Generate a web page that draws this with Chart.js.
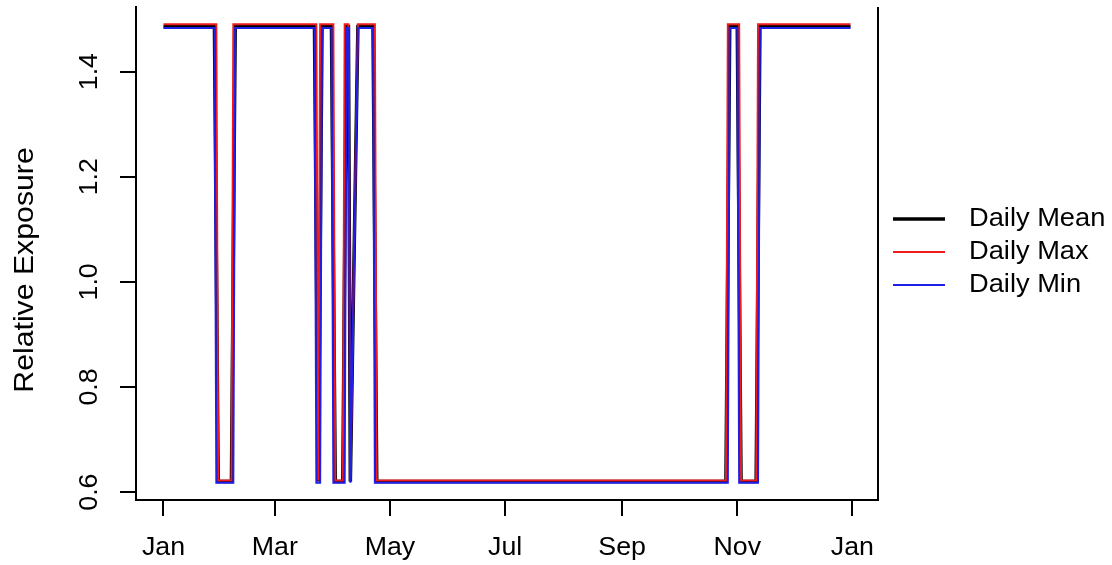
<!DOCTYPE html>
<html>
<head>
<meta charset="utf-8">
<script src="https://cdn.jsdelivr.net/npm/chart.js@4"></script>
<style>
body { margin: 0; background: #fff; }
</style>
</head>
<body>
<canvas id="chart" width="1112" height="565"></canvas>
<script>
// one year of daily values, day 0 = 1 Jan
var nDays = 365;
var missingDays = [100, 101, 102];

// blocks where the whole day sat at the low level (daily max is low too)
var fullLowStart = [29, 82, 91, 99, 113, 306];
var fullLowEnd = [36, 82, 95, 99, 298, 314];
// blocks touched by the low level (daily min is low)
var anyLowStart = [28, 81, 90, 99, 112, 305];
var anyLowEnd = [37, 83, 96, 99, 299, 315];

// low, partly-low day, high
var meanLevels = [0.620, 1.05, 1.486];
var maxLevels = [0.622, 1.490];
var minLevels = [0.618, 1.483];

var monthTickDays = [0, 59, 120, 181, 243, 304, 365];
var monthTickLabels = ['Jan', 'Mar', 'May', 'Jul', 'Sep', 'Nov', 'Jan'];
var yTickValues = [0.6, 0.8, 1.0, 1.2, 1.4];

var seriesLabels = ['Daily Mean', 'Daily Max', 'Daily Min'];
var seriesColors = ['#000000', '#ee1c1c', '#1f1fe8'];
var seriesWidths = [3.5, 2, 2];

function inBlock(d, starts, ends) {
  for (var i = 0; i < starts.length; i++) {
    if (d >= starts[i] && d <= ends[i]) return true;
  }
  return false;
}

var meanData = [], maxData = [], minData = [];
for (var d = 0; d < nDays; d++) {
  if (missingDays.indexOf(d) >= 0) continue;
  var full = inBlock(d, fullLowStart, fullLowEnd);
  var any = inBlock(d, anyLowStart, anyLowEnd);
  meanData.push({x: d, y: full ? meanLevels[0] : (any ? meanLevels[1] : meanLevels[2])});
  maxData.push({x: d, y: full ? maxLevels[0] : maxLevels[1]});
  minData.push({x: d, y: any ? minLevels[0] : minLevels[1]});
}

var FONT = "'Liberation Sans', Arial, sans-serif";
Chart.defaults.font.family = FONT;
Chart.defaults.color = '#000';

// the reference text is a little wider than Arial, so stretch it along the text direction
function wideText(ctx, txt, x, y, size, angle, align, baseline, sx) {
  ctx.save();
  ctx.translate(x, y);
  ctx.rotate(angle);
  ctx.scale(sx, 1);
  ctx.font = size + 'px ' + FONT;
  ctx.textAlign = align;
  ctx.textBaseline = baseline;
  ctx.fillText(txt, 0, 0);
  ctx.restore();
}

var extras = {
  id: 'extras',
  afterDraw: function(chart) {
    var ctx = chart.ctx;
    var area = chart.chartArea;
    var xs = chart.scales.x, ys = chart.scales.y;
    ctx.save();
    // right side of the box
    ctx.strokeStyle = '#000';
    ctx.lineWidth = 2;
    ctx.beginPath();
    ctx.moveTo(area.right, area.top);
    ctx.lineTo(area.right, area.bottom);
    ctx.stroke();

    ctx.fillStyle = '#000';
    monthTickDays.forEach(function(v, i) {
      wideText(ctx, monthTickLabels[i], xs.getPixelForValue(v), 555, 25, 0, 'center', 'alphabetic', 1.07);
    });
    yTickValues.forEach(function(v) {
      wideText(ctx, v.toFixed(1), 97, ys.getPixelForValue(v), 25, -Math.PI / 2, 'center', 'alphabetic', 1.07);
    });
    wideText(ctx, 'Relative Exposure', 33, 270, 28, -Math.PI / 2, 'center', 'alphabetic', 1.08);

    // legend
    for (var i = 0; i < seriesLabels.length; i++) {
      var ly = 219 + i * 33;
      ctx.strokeStyle = seriesColors[i];
      ctx.lineWidth = seriesWidths[i];
      ctx.beginPath();
      ctx.moveTo(893, ly);
      ctx.lineTo(945, ly);
      ctx.stroke();
      wideText(ctx, seriesLabels[i], 969, ly, 25, 0, 'left', 'middle', 1.09);
    }
    ctx.restore();
  }
};

function makeSet(i, data, order) {
  return {
    label: seriesLabels[i],
    data: data,
    borderColor: seriesColors[i],
    borderWidth: seriesWidths[i],
    pointRadius: 0,
    tension: 0,
    order: order
  };
}

var ctx1 = document.getElementById('chart').getContext('2d');
var chart1 = new Chart(ctx1, {
  type: 'line',
  data: {
    datasets: [
      makeSet(0, meanData, 3),
      makeSet(1, maxData, 2),
      makeSet(2, minData, 1)
    ]
  },
  options: {
    responsive: false,
    animation: false,
    layout: { padding: { top: 7, right: 234, bottom: 0, left: 0 } },
    plugins: { legend: { display: false }, tooltip: { enabled: false } },
    scales: {
      x: {
        type: 'linear',
        min: -14.56,
        max: 378.56,
        afterBuildTicks: function(s) {
          s.ticks = monthTickDays.map(function(v) { return {value: v}; });
        },
        afterFit: function(s) { s.height = 65; },
        ticks: { display: false, autoSkip: false },
        grid: { drawOnChartArea: false, drawTicks: true, tickLength: 16, color: '#000', lineWidth: 2 },
        border: { display: true, color: '#000', width: 2 }
      },
      y: {
        min: 0.585,
        max: 1.523,
        afterBuildTicks: function(s) {
          s.ticks = yTickValues.map(function(v) { return {value: v}; });
        },
        afterFit: function(s) { s.width = 136; },
        ticks: { display: false },
        grid: { drawOnChartArea: false, drawTicks: true, tickLength: 16, color: '#000', lineWidth: 2 },
        border: { display: true, color: '#000', width: 2 }
      }
    }
  },
  plugins: [extras]
});
</script>
</body>
</html>
